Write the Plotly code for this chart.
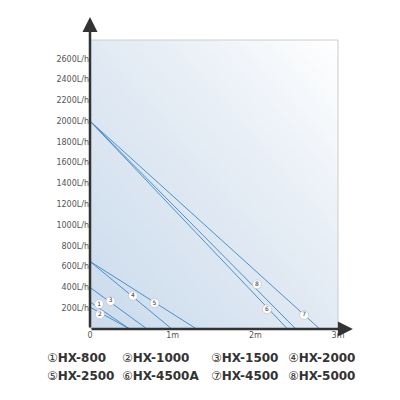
import numpy as np
import plotly.graph_objects as go

# pump curves: head (m) vs flow (L/h)
models = ["HX-800", "HX-1000", "HX-1500", "HX-2000", "HX-2500", "HX-4500A", "HX-4500", "HX-5000"]
max_flow = [260, 210, 400, 650, 650, 2000, 2000, 2000]
max_head = [0.48, 0.48, 0.69, 0.99, 1.29, 2.39, 2.78, 2.49]
label_x = [0.11, 0.12, 0.25, 0.52, 0.78, 2.14, 2.59, 2.02]
label_y = [240, 140, 270, 320, 250, 190, 135, 430]
circled = ["①", "②", "③", "④", "⑤", "⑥", "⑦", "⑧"]

y_ticks = list(range(200, 2601, 200))
x_ticks = [0, 1, 2, 3]
x_labels = ["0", "1m", "2m", "3m"]

fig = go.Figure()

# background gradient (light blue bottom-left to white top-right)
gx = np.linspace(0, 3, 40)
gy = np.linspace(0, 2780, 40)
gz = [[xx / 3 + yy / 2780 for xx in gx] for yy in gy]
fig.add_trace(go.Heatmap(x=gx, y=gy, z=gz, showscale=False, hoverinfo="skip",
                         colorscale=[[0, "#cadbec"], [0.6, "#e6edf5"], [1, "#ffffff"]]))

for i, m in enumerate(models):
    fig.add_trace(go.Scatter(x=[0, max_head[i]], y=[max_flow[i], 0], mode="lines",
                             line=dict(color="#3c86c4", width=0.9), name=m, showlegend=False))
    fig.add_trace(go.Scatter(x=[label_x[i]], y=[label_y[i]], mode="markers+text", text=[str(i + 1)],
                             textfont=dict(size=6, color="#333", family="DejaVu Sans"),
                             marker=dict(size=9, color="white", line=dict(color="#bbb", width=0.6)),
                             showlegend=False))

# axes with arrows
fig.add_annotation(x=0, y=1.08, xref="x domain", yref="y domain", ax=0, ay=0, axref="x domain",
                   ayref="y domain", showarrow=True, arrowhead=2, arrowsize=1.2, arrowwidth=2.5,
                   arrowcolor="#333", text="")
fig.add_annotation(x=1.06, y=0, xref="x domain", yref="y domain", ax=0, ay=0, axref="x domain",
                   ayref="y domain", showarrow=True, arrowhead=2, arrowsize=1.2, arrowwidth=2.5,
                   arrowcolor="#333", text="")

# legend text
for i, m in enumerate(models):
    col, row = i % 4, i // 4
    fig.add_annotation(x=[-0.18, 0.12, 0.48, 0.79][col], y=[-0.10, -0.163][row], xref="paper", yref="paper",
                       xanchor="left", yanchor="middle", showarrow=False,
                       text=f"{circled[i]}<b>{m}</b>",
                       font=dict(size=12, color="#333", family="DejaVu Sans"))

fig.update_layout(
    width=400, height=400, margin=dict(l=82, r=70, t=32, b=79),
    paper_bgcolor="white", plot_bgcolor="white",
    xaxis=dict(range=[0, 3], tickvals=x_ticks, ticktext=x_labels, showgrid=True,
               gridcolor="rgba(160,180,200,0.5)", gridwidth=0.6,
               minor=dict(dtick=0.25, showgrid=True, gridcolor="rgba(160,180,200,0.5)"),
               tickfont=dict(size=8, color="#555"), ticks="", zeroline=False,
               showline=False, mirror=False),
    yaxis=dict(range=[0, 2780], tickvals=y_ticks, ticktext=[f"{v}L/h" for v in y_ticks],
               showgrid=True, gridcolor="rgba(160,180,200,0.5)", gridwidth=0.6,
               tickfont=dict(size=8, color="#555"), ticks="", zeroline=False, showline=False),
    font=dict(family="DejaVu Sans"),
)
fig.add_shape(type="line", xref="x domain", yref="y domain", x0=0, x1=1, y0=1, y1=1,
              line=dict(color="#ccc", width=1))
fig.add_shape(type="line", xref="x domain", yref="y domain", x0=1, x1=1, y0=0, y1=1,
              line=dict(color="#ccc", width=1))

fig.write_html("out.html")
